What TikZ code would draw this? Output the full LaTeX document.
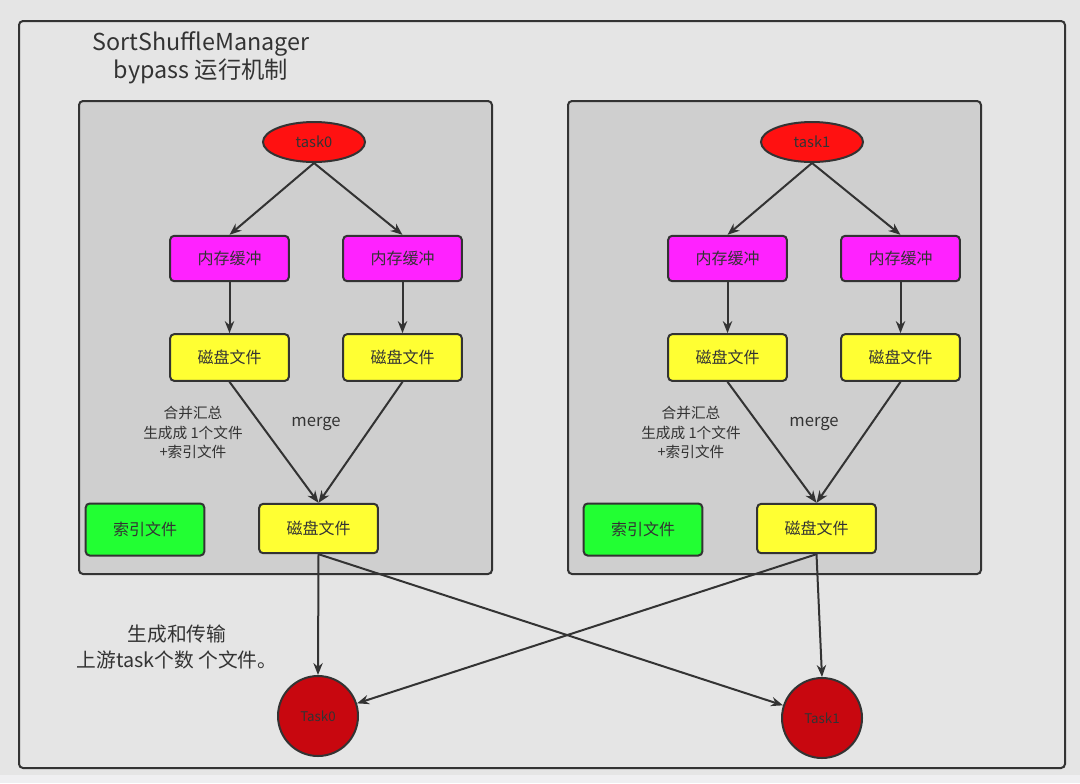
\documentclass[tikz,border=0pt]{standalone}
\usepackage{fontspec}
\setmainfont{Noto Sans CJK SC}
\usepackage{xcolor}
\usetikzlibrary{arrows.meta, shapes.geometric}

\definecolor{BgGray}{HTML}{E5E5E5}
\definecolor{StripGray}{HTML}{EFEFF1}
\definecolor{PanelGray}{HTML}{CFCFCF}
\definecolor{LineGray}{HTML}{333333}
\definecolor{MemPink}{HTML}{FF22FF}
\definecolor{DiskYellow}{HTML}{FFFF33}
\definecolor{IndexGreen}{HTML}{22FF33}
\definecolor{TaskRed}{HTML}{FF1111}
\definecolor{ReduceRed}{HTML}{C8070F}

\begin{document}
\begin{tikzpicture}[x=0.75pt, y=-0.75pt,
  font=\fontsize{12}{14}\selectfont, text=LineGray,
  panel/.style={rectangle, rounded corners=3pt, draw=LineGray, line width=1.5pt,
    fill=PanelGray, minimum width=309.75pt, minimum height=354.75pt},
  %
  task/.style ={draw=LineGray, line width=1.5pt, ellipse, fill=TaskRed,
    minimum width=76.5pt, minimum height=30pt, inner sep=0pt,
    font=\fontsize{11}{13}\selectfont},
  %
  membox/.style ={rectangle, rounded corners=3pt, draw=LineGray, line width=1.5pt,
    fill=MemPink, minimum width=89pt, minimum height=34pt},
  %
  diskbox/.style ={membox, fill=DiskYellow, minimum height=35pt},
  %
  indexbox/.style ={membox, fill=IndexGreen, minimum height=39pt},
  %
  reduce/.style ={draw=LineGray, line width=1.5pt, circle, fill=ReduceRed,
    minimum size=60pt, inner sep=0pt, font=\fontsize{10}{12}\selectfont},
  %
  note/.style ={align=center, font=\fontsize{11}{14.6}\selectfont},
  %
  flow/.style ={-{Stealth[length=9pt, width=7pt]}, draw=LineGray, line width=1.5pt}
  ]

  % background and frame
  \fill [BgGray] (0,0) rectangle (1080,783);
  \fill [StripGray] (0,775) rectangle (1080,783);
  \useasboundingbox (0,0) rectangle (1080,783);
  \draw [LineGray, line width=1.5pt, rounded corners=3pt] (19,21) rectangle (1065,768);

  \node [align=center, font=\fontsize{17.5}{21}\selectfont] (title) at (201,58)
    {SortShuffleManager\\bypass 运行机制};

  \foreach \i/\dx/\px in {0/0/285.5, 1/498/276.5} {
    \begin{scope}[shift={(\dx,0)}]
      \node [panel] (panel\i) at (\px,337.5) {};
      %%%%%%%%%%%%%%%%%%%%%%%%%%%%%%%
      \node [task] (task\i) at (314,142) {task\i};
      \node [membox] (memL\i) at (229.5,258.5) {内存缓冲};
      \node [membox] (memR\i) at (402.5,258.5) {内存缓冲};
      \node [diskbox] (diskL\i) at (229.5,357.5) {磁盘文件};
      \node [diskbox] (diskR\i) at (402.5,357.5) {磁盘文件};
      \node [diskbox, minimum height=37pt] (merged\i) at (318.5,528.5) {磁盘文件};
      \node [indexbox] (index\i) at (145,529.5) {索引文件};
      %%%%%%%%%%%%%%%%%%%%%%%%%%%%%%%
      \node [note] (mergenote\i) at (193,432.5) {合并汇总\\生成成 1个文件\\+索引文件};
      \node [font=\fontsize{12.5}{14}\selectfont] (merge\i) at (316,424) {merge};
      %%%%%%%%%%%%%%%%%%%%%%%%%%%%%%%
      \draw [flow] (task\i.south) -- (memL\i.north);
      \draw [flow] (task\i.south) -- (memR\i.north);
      \draw [flow] (memL\i) -- (diskL\i);
      \draw [flow] (memR\i) -- (diskR\i);
      \draw [flow] (diskL\i.south) -- (merged\i.north);
      \draw [flow] (diskR\i.south) -- (merged\i.north);
    \end{scope}
  }

  \node [reduce] (reduce0) at (318,716) {Task0};
  \node [reduce] (reduce1) at (822,718) {Task1};

  \node [align=center, font=\fontsize{14.8}{19.5}\selectfont] (shufflenote) at (177,647)
    {生成和传输\\上游task个数 个文件。};

  \draw [flow] (merged0.south) -- (reduce0.north);
  \draw [flow] (merged0.south) -- (reduce1);
  \draw [flow] (merged1.south) -- (reduce0);
  \draw [flow] (merged1.south) -- (reduce1.north);

\end{tikzpicture}
\end{document}
